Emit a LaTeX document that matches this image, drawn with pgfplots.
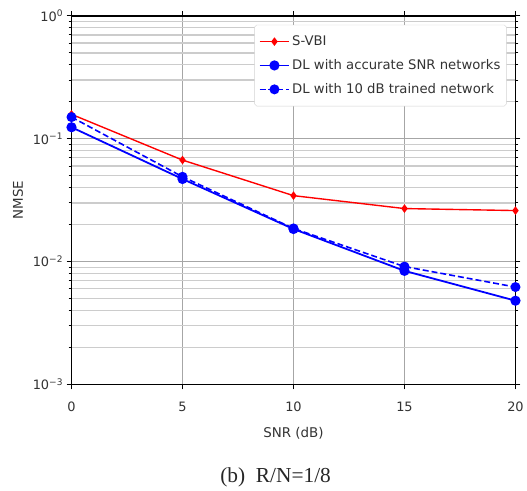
\documentclass[border=0pt]{standalone}
\usepackage{pgfplots}
\pgfplotsset{compat=1.18}
\usepackage{fontspec}
\setmainfont{DejaVu Sans}
\newfontfamily\capfont{Liberation Serif}
\begin{document}
\begin{tikzpicture}
\begin{semilogyaxis}[
  scale only axis,
  width=447pt, height=371pt,
  xmin=0, xmax=20, ymin=1e-3, ymax=1,
  xtick={0,5,10,15,20},
  ytick={1e-3,1e-2,1e-1,1},
  yticklabels={10\textsuperscript{−3},10\textsuperscript{−2},10\textsuperscript{−1},10\textsuperscript{0}},
  /pgf/number format/assume math mode=true,
  tick label style={font=\fontsize{13}{15}\selectfont, text=black!80},
  xticklabel style={yshift=-9pt},
  xlabel={SNR (dB)}, ylabel={NMSE},
  label style={font=\fontsize{13.5}{15}\selectfont, text=black!80},
  xlabel style={yshift=-9pt},
  ylabel style={yshift=3pt},
  tick align=outside,
  major tick length=5pt, minor tick length=3pt,
  tick style={black, line width=0.9pt},
  axis line style={black, line width=1.6pt},
  xmajorgrids, ymajorgrids, yminorgrids,
  major grid style={gray!70, line width=0.8pt},
  minor grid style={gray!40, line width=1.3pt},
  legend cell align=left,
  legend style={at={(1,1)}, anchor=north east, xshift=-9pt, yshift=-9pt,
    font=\fontsize{13.3}{15}\selectfont, text=black!80, draw=gray!35, rounded corners=2pt,
    fill=white, row sep=8.5pt, inner xsep=4pt, inner ysep=9pt},
  legend image code/.code={\draw[mark repeat=2, mark phase=2] plot coordinates {(0pt,0pt) (15pt,0pt) (30pt,0pt)};},
]
\addplot[red, line width=1.4pt, mark=diamond*, mark size=3.2pt] coordinates {
  (0,0.158) (5,0.067) (10,0.0344) (15,0.027) (20,0.026)};
\addlegendentry{S-VBI}
\addplot[blue, line width=1.8pt, mark=*, mark size=4.2pt] coordinates {
  (0,0.124) (5,0.047) (10,0.0184) (15,0.0084) (20,0.0048)};
\addlegendentry{DL with accurate SNR networks}
\addplot[blue, line width=1.6pt, dash pattern=on 6pt off 3pt, mark=*, mark size=4.2pt, mark options={solid}] coordinates {
  (0,0.150) (5,0.049) (10,0.0186) (15,0.0091) (20,0.0062)};
\addlegendentry{DL with 10 dB trained network}
\end{semilogyaxis}
\node[font=\capfont\fontsize{21.5}{24}\selectfont, text=black!85] at ([xshift=-18pt,yshift=-94pt]current axis.south) {(b)\ \ R/N=1/8};
\path (current axis.south west) ++(-72pt,-104pt) rectangle ++(527pt,491pt);
\end{tikzpicture}
\end{document}
